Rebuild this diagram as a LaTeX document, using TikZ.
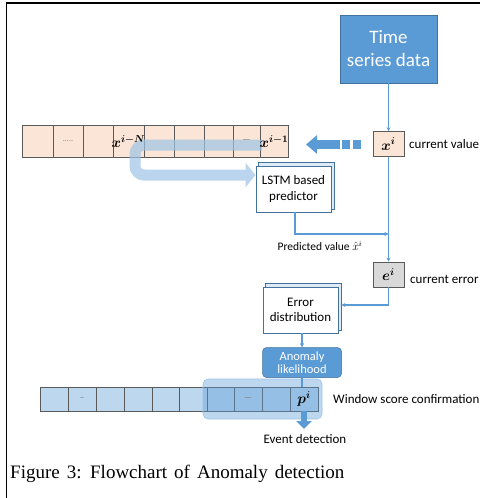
\documentclass[tikz,border=0pt]{standalone}
\usepackage{fontspec}
\setmainfont{Carlito}
\newfontfamily\capfont{Liberation Serif}
\usetikzlibrary{arrows.meta,calc,backgrounds}
\definecolor{tblue}{HTML}{5B9BD5}
\definecolor{dblue}{HTML}{41719C}
\definecolor{lblue}{HTML}{BDD7EE}
\definecolor{mblue}{HTML}{9DC3E6}
\definecolor{bevel}{HTML}{DEEBF7}
\definecolor{peach}{HTML}{FBE5D6}
\definecolor{cellline}{HTML}{5A5A5A}
\definecolor{lgrey}{HTML}{D9D9D9}
\begin{document}
\begin{tikzpicture}[x=1pt,y=-1pt,
  flow/.style={draw=tblue, line width=1.1pt, -{Stealth[length=4pt,width=4pt]}},
  plainflow/.style={draw=tblue, line width=1.1pt},
  box3d/.style={draw=dblue, fill=white, line width=0.8pt, minimum width=75pt, minimum height=46pt, align=center, font=\fontsize{13}{15.5}\selectfont, inner sep=1pt},
  ucell/.style={draw=cellline, fill=peach, line width=0.6pt, minimum height=32pt, inner sep=0pt},
  lcell/.style={draw=cellline, fill=lblue, line width=0.6pt, minimum height=24pt, inner sep=0pt},
  smallbox/.style={draw=cellline, line width=0.6pt, minimum width=31pt, minimum height=25pt, inner sep=0pt, font=\fontsize{14}{16}\selectfont\boldmath},
  mathlbl/.style={inner sep=0pt, font=\fontsize{14}{16}\selectfont\boldmath},
  lbl/.style={font=\fontsize{13}{15}\selectfont, inner sep=0pt},
]
\useasboundingbox (0,0) rectangle (480,498);
% frame
\draw[line width=1.3pt] (6.5,498) -- (6.5,3) -- (480,3);

% time series
\node[draw=dblue, fill=tblue, line width=0.6pt, minimum width=97pt, minimum height=68pt, align=center, text=white, font=\fontsize{19}{23}\selectfont] (ts) at (388.5,49) {Time\\series data};

% x^i
\node[smallbox, fill=peach] (xi) at (388.5,144) {$x^i$};
\node[lbl, anchor=west] (cv) at (409,144) {current value};

% upper array
\foreach \a/\b [count=\i] in {22/53,53/83,83/113,113/144,144/174,174/204,204/233,233/260,260/288}{
  \pgfmathsetmacro\w{\b-\a}
  \node[ucell, minimum width=\w pt] (u\i) at ({(\a+\b)/2},141.5) {};
}

% light U-shaped arrow
\begin{scope}[transparency group, opacity=0.7]
\draw[mblue, line width=11pt, rounded corners=9pt, -{Triangle[width=24pt,length=10pt]}] (262,145) -- (135,145) -- (135,175) -- (255.5,175);
\end{scope}

% texts in upper array
\node[font=\fontsize{8}{9}\selectfont, text=gray] (t2) at (u2) {.....};
\node[mathlbl] (t4) at (u4) {$x^{i-N}$};
\node[font=\fontsize{9}{10}\selectfont, text=gray] (t8) at (u8) {\textemdash};
\node[mathlbl] (t9) at (u9) {$x^{i-1}$};

% block arrow from x^i to array
\fill[tblue] (353,140) rectangle (361,149);
\fill[tblue] (342,140) rectangle (350,149);
\coordinate (bt) at (306,144.5);
\draw[tblue, line width=9pt, -{Triangle[width=18pt,length=11pt]}] (340,144.5) -- (bt);

% LSTM
\node[box3d] (lstm) at (293.5,189) {LSTM based\\predictor};
\begin{scope}[on background layer]
\draw[draw=dblue, fill=bevel, line width=0.8pt] ([shift={(3,-3)}]lstm.south west) rectangle ([shift={(3,-3)}]lstm.north east);
\end{scope}

% arrows right column
\draw[flow] (ts.south) -- (xi.north);
\node[smallbox, fill=lgrey] (ei) at (388.5,274.5) {$e^i$};
\node[lbl, anchor=west] (ce) at (410,279) {current error};
\draw[flow] (xi.south) -- (ei.north);
\coordinate (pj) at (388.5,234);
\draw[flow] (lstm.south -| 295,0) |- (pj);
\node[font=\fontsize{11.5}{13}\selectfont, inner sep=0pt] (pv) at (320,246) {Predicted value $\hat{x}^i$};

% Error distribution
\node[box3d] (ed) at (300.5,310) {Error\\distribution};
\begin{scope}[on background layer]
\draw[draw=dblue, fill=bevel, line width=0.8pt] ([shift={(3,-3)}]ed.south west) rectangle ([shift={(3,-3)}]ed.north east);
\end{scope}
\coordinate (edin) at ($(ed.east)+(3,-5)$);
\draw[flow] (ei.south) |- (edin);

% Anomaly likelihood
\node[draw=dblue, fill=tblue, line width=0.5pt, rounded corners=4pt, minimum width=79pt, minimum height=30pt, align=center, text=white, font=\fontsize{12.5}{13.5}\selectfont, inner sep=0pt] (al) at (302,362.5) {Anomaly\\likelihood};
\draw[flow] (ed.south -| al.north) -- (al.north);

% lower array
\foreach \a/\b [count=\i] in {40/68,68/96,96/124,124/152,152/179,179/207,207/234,234/262,262/290,290/318}{
  \pgfmathsetmacro\w{\b-\a}
  \node[lcell, minimum width=\w pt] (l\i) at ({(\a+\b)/2},399) {};
}
\fill[tblue, fill opacity=0.4, draw=mblue, line width=0.6pt, rounded corners=5pt] (203,379) rectangle (322,419);
\node[font=\fontsize{9}{10}\selectfont, text=gray] (s2) at (l2) {--};
\node[font=\fontsize{9}{10}\selectfont, text=gray] (s8) at (l8) {\textemdash};
\node[mathlbl] (s10) at (l10) {$p^i$};
\draw[plainflow] (al.south) -- (al.south |- l10.north);
\node[lbl, anchor=west] (wsc) at (333,399) {Window score confirmation};

% event detection
\coordinate (evtip) at (304,429);
\draw[tblue, line width=6pt, -{Triangle[width=15pt,length=8pt]}] (l10.south -| 304,0) -- (evtip);
\node[lbl] (ev) at (305,439) {Event detection};

% caption
\node[anchor=base west, inner sep=0pt, font=\capfont\fontsize{19}{22}\selectfont] (cap) at (10,478) {\spaceskip=7pt Figure 3: Flowchart of Anomaly detection};
\end{tikzpicture}
\end{document}
